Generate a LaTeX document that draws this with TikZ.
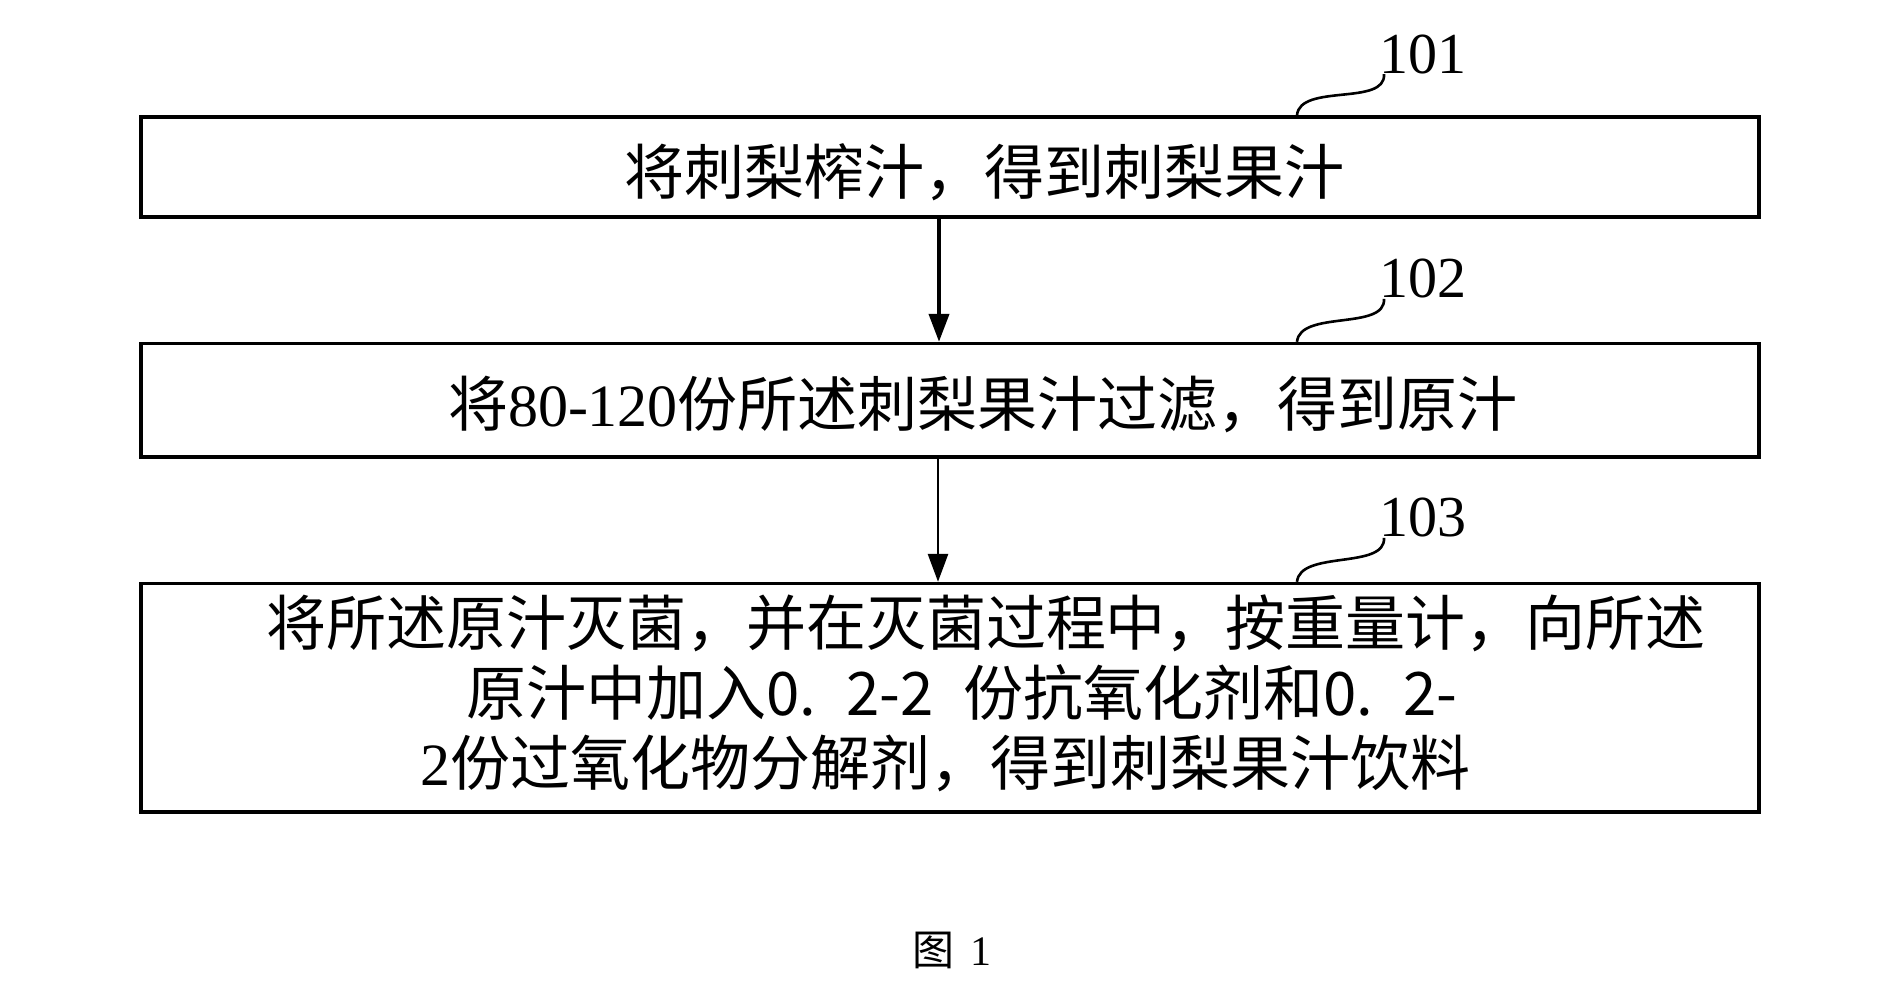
\documentclass[tikz,border=0pt]{standalone}
\usepackage{fontspec}
\setmainfont{Liberation Serif}
\newfontfamily\cjk{Noto Sans CJK SC}
\usetikzlibrary{positioning, arrows.meta, calc}

\begin{document}
\begin{tikzpicture}[
    x=0.5pt, y=-0.5pt,
    etape/.style={draw, rectangle, line width=1.8pt, minimum width=809pt, inner sep=0pt},
    texte/.style={font=\fontsize{30}{35}\selectfont\cjk, align=center, inner sep=0pt},
    flow/.style={-{Triangle[length=14pt,width=10pt]}, line width=2pt},
    lien/.style={line width=1.3pt},
    repere/.style={font=\fontsize{29}{30}\selectfont, anchor=base west, inner sep=0pt}
]
  \useasboundingbox (0,0) rectangle (1901,1006);

  % Boîtes
  \node[etape, minimum height=50pt] (n1) at (950,167) {};
  \node[etape, minimum height=56.7pt, below=61.5pt of n1] (n2) {};
  \node[etape, minimum height=114.2pt, below=61.5pt of n2] (n3) {};

  % Textes
  \node[texte] (t1) at ([shift={(34,5)}]n1.center) {将刺梨榨汁，得到刺梨果汁};
  \node[texte] (t2) at ([shift={(33,4)}]n2.center) {将{\rmfamily 80-120}份所述刺梨果汁过滤，得到原汁};
  \node[texte] (t3) at ([shift={(12,-4)}]n3.center)
    {\hspace*{24pt}将所述原汁灭菌，并在灭菌过程中，按重量计，向所述\\
     原汁中加入0.\enspace{}2-2\enspace{}份抗氧化剂和0.\enspace{}2-\\
     {\rmfamily 2}份过氧化物分解剂，得到刺梨果汁饮料\hspace*{17pt}};

  % Flèches
  \draw[flow] ([xshift=-5.5pt]n1.south) -- ([xshift=-5.5pt]n2.north);
  \draw[flow, line width=1.4pt] ([xshift=-6pt]n2.south) -- ([xshift=-6pt]n3.north);

  % Repères
  \coordinate (c1) at ([xshift=173.5pt]n1.north);
  \coordinate (c2) at ([xshift=173.5pt]n2.north);
  \coordinate (c3) at ([xshift=173.5pt]n3.north);
  \node[repere] (l1) at ([shift={(82,-42)}]c1) {101};
  \node[repere] (l2) at ([shift={(82,-44)}]c2) {102};
  \node[repere] (l3) at ([shift={(82,-45)}]c3) {103};
  \draw[lien] (c1) .. controls +(3,-32) and +(2,32) .. ([shift={(5,1)}]l1.base west);
  \draw[lien] (c2) .. controls +(3,-32) and +(2,32) .. ([shift={(5,1)}]l2.base west);
  \draw[lien] (c3) .. controls +(3,-32) and +(2,32) .. ([shift={(5,1)}]l3.base west);

  % Légende
  \node[font=\fontsize{21}{24}\selectfont, inner sep=0pt] (fig) at (952,950) {{\cjk 图}\hspace{8pt}1};
\end{tikzpicture}
\end{document}
